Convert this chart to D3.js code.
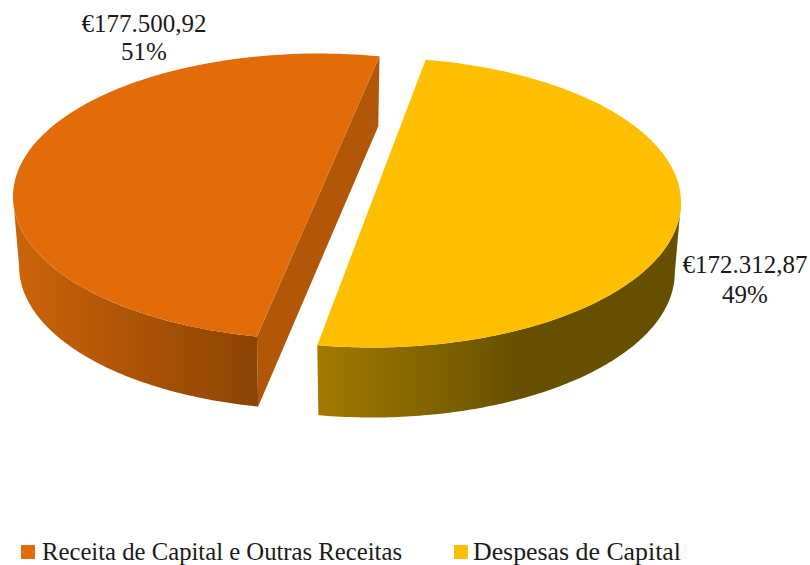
<!DOCTYPE html>
<html>
<head>
<meta charset="utf-8">
<script src="https://cdn.jsdelivr.net/npm/d3@7"></script>
<style>
html,body{margin:0;padding:0;background:#fff}
svg{display:block}
text{font-family:"Liberation Serif",serif;fill:#1a1a1a}
</style>
</head>
<body>
<div id="chart"></div>
<script>
const categories = ["Receita de Capital e Outras Receitas", "Despesas de Capital"];
const values = [177500.92, 172312.87];
const valueLabels = ["€177.500,92", "€172.312,87"];
const percentLabels = ["51%", "49%"];
const topColors = ["#e26b0a", "#fdbf00"];

const W = 810, H = 565;
const rad = d3.scaleLinear().domain([0, 360]).range([0, 2 * Math.PI]);

// Layout of each exploded slice (the view's 3D foreshortening turns each share into a half ellipse)
const sliceView = [
  {cx: 319, cy: 196.5, rx: 306, ry: 143, from: 191.7, to: 371.4},
  {cx: 372, cy: 202.5, rx: 309, ry: 145, from: 10, to: 190.2}
];
const depth = 70, bottomShrink = 0.98;

const svg = d3.select("#chart").append("svg").attr("width", W).attr("height", H);
const defs = svg.append("defs");

const arcs = d3.pie().sort(null).startAngle(rad(191)).endAngle(rad(551))(values);

const project = (v, deg, low) => {
  const a = rad(deg), k = low ? bottomShrink : 1;
  return [v.cx + v.rx * k * Math.sin(a), v.cy + (low ? depth : 0) - v.ry * Math.cos(a)];
};
const line = d3.line();
const sweep = (a, b) => d3.range(0, 121).map(i => a + (b - a) * i / 120);

const walls = [
  {id: "wallA", x1: 13, x2: 258, stops: ["#cc6409", "#8c4304"]},
  {id: "wallB", x1: 318, x2: 520, stops: ["#a37a00", "#665000"]}
];
walls.forEach(w => {
  const g = defs.append("linearGradient").attr("id", w.id).attr("gradientUnits", "userSpaceOnUse")
    .attr("x1", w.x1).attr("x2", w.x2).attr("y1", 0).attr("y2", 0);
  g.append("stop").attr("offset", 0).attr("stop-color", w.stops[0]);
  g.append("stop").attr("offset", 1).attr("stop-color", w.stops[1]);
});

arcs.forEach((d, i) => {
  const v = sliceView[i];
  const view = d3.scaleLinear().domain([d.startAngle, d.endAngle]).range([v.from, v.to]);
  const a0 = view(d.startAngle), a1 = view(d.endAngle);
  const g = svg.append("g").attr("class", "slice");

  // outer wall: only the part of the rim that faces the viewer
  const wa = i === 0 ? a0 : 90, wb = i === 0 ? 270 : a1;
  const rimTop = sweep(wa, wb).map(x => project(v, x, false));
  const rimLow = sweep(wb, wa).map(x => project(v, x, true));
  g.append("path").attr("d", line(rimTop.concat(rimLow)) + "Z")
    .attr("fill", `url(#${walls[i].id})`);

  // cut face visible on the orange slice
  if (i === 0) {
    g.append("path").attr("d", line([
      project(v, a1, false), project(v, a1, true),
      project(v, a0, true), project(v, a0, false)
    ]) + "Z").attr("fill", "#b25607");
  }

  // top face
  g.append("path").attr("d", line(sweep(a0, a1).map(x => project(v, x, false))) + "Z")
    .attr("fill", topColors[i]);
});

const labels = [
  {x: 144, y: [32, 60]},
  {x: 745, y: [273, 303]}
];
labels.forEach((l, i) => {
  const t = svg.append("g").attr("font-size", 25).attr("text-anchor", "middle");
  t.append("text").attr("x", l.x).attr("y", l.y[0]).text(valueLabels[i]);
  t.append("text").attr("x", l.x).attr("y", l.y[1]).text(percentLabels[i]);
});

const legendPos = [
  {sx: 21, tx: 42, w: 360},
  {sx: 454, tx: 473, w: 208}
];
categories.forEach((c, i) => {
  const p = legendPos[i];
  svg.append("rect").attr("x", p.sx).attr("y", 545).attr("width", 14).attr("height", 14).attr("fill", topColors[i]);
  svg.append("text").attr("x", p.tx).attr("y", 560).attr("font-size", 25)
    .attr("textLength", p.w).attr("lengthAdjust", "spacingAndGlyphs").text(c);
});
</script>
</body>
</html>
